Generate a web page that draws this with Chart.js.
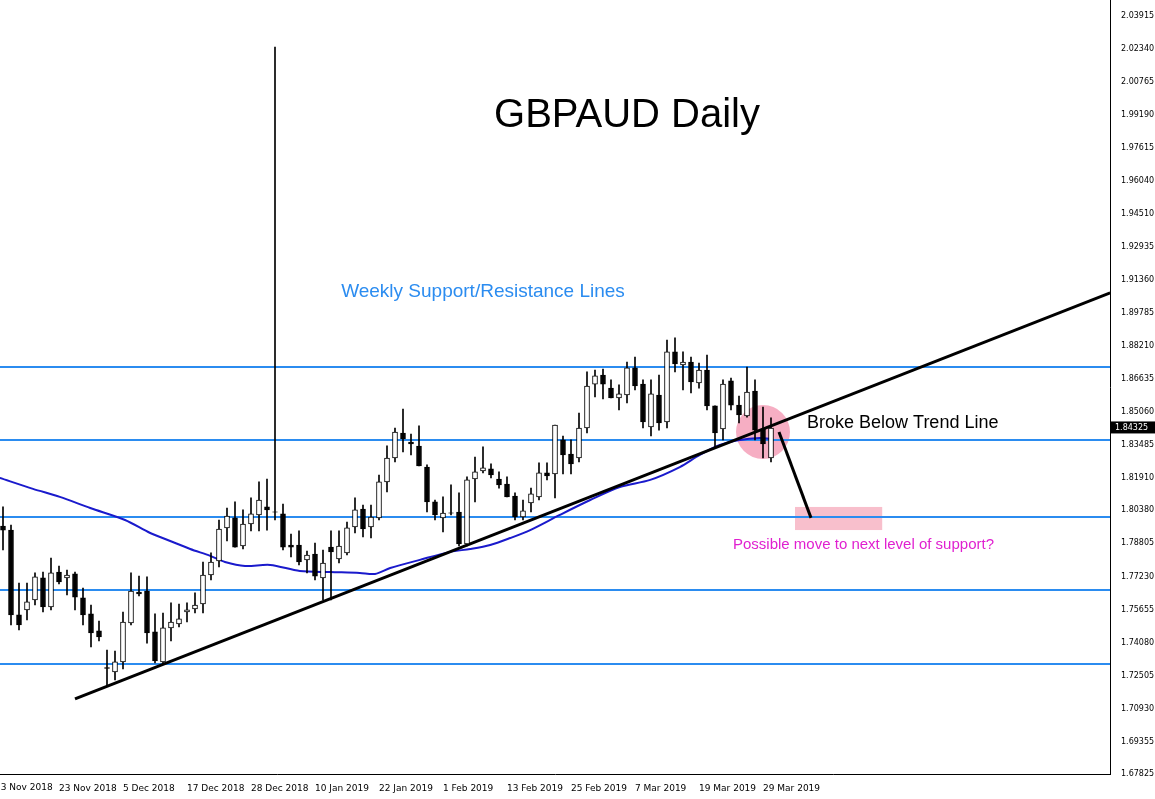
<!DOCTYPE html>
<html><head><meta charset="utf-8">
<script src="https://cdn.jsdelivr.net/npm/chart.js@4.4.0/dist/chart.umd.min.js"></script>
<style>html,body{margin:0;padding:0;background:#fff}#wrap{width:1155px;height:799px}</style>
</head><body><div id="wrap"><canvas id="c"></canvas></div>
<script>
const opens=[1.7963,1.7944,1.7540,1.7564,1.7611,1.7716,1.7578,1.7744,1.7716,1.7735,1.7621,1.7545,1.7464,1.7289,1.7268,1.7316,1.7502,1.7649,1.7654,1.7459,1.7316,1.7478,1.7497,1.7554,1.7568,1.7592,1.7730,1.7797,1.7954,1.8002,1.7868,1.7973,1.8016,1.8054,1.8031,1.8021,1.7873,1.7873,1.7802,1.7830,1.7716,1.7863,1.7806,1.7835,1.7959,1.8044,1.7959,1.8002,1.8173,1.8287,1.8406,1.8363,1.8344,1.8244,1.8078,1.8002,1.8026,1.8030,1.7878,1.8187,1.8225,1.8235,1.8187,1.8163,1.8106,1.8006,1.8073,1.8102,1.8216,1.8211,1.8373,1.8306,1.8287,1.8430,1.8639,1.8682,1.8620,1.8573,1.8587,1.8716,1.8639,1.8435,1.8587,1.8459,1.8792,1.8730,1.8744,1.8644,1.8706,1.8535,1.8425,1.8654,1.8539,1.8487,1.8606,1.8425,1.8287];
const highs=[1.8054,1.7968,1.7692,1.7692,1.7740,1.7744,1.7811,1.7773,1.7754,1.7744,1.7668,1.7587,1.7511,1.7373,1.7368,1.7554,1.7740,1.7725,1.7721,1.7545,1.7549,1.7597,1.7592,1.7597,1.7645,1.7792,1.7835,1.7992,1.8049,1.8078,1.8040,1.8097,1.8173,1.8187,2.0244,1.8068,1.7925,1.7940,1.7844,1.7882,1.7849,1.7940,1.7940,1.7982,1.8097,1.8063,1.8063,1.8206,1.8345,1.8430,1.8520,1.8401,1.8440,1.8254,1.8087,1.8102,1.8159,1.8121,1.8197,1.8292,1.8340,1.8259,1.8221,1.8197,1.8121,1.8087,1.8144,1.8264,1.8264,1.8444,1.8392,1.8373,1.8501,1.8697,1.8706,1.8711,1.8659,1.8635,1.8744,1.8768,1.8659,1.8659,1.8682,1.8849,1.8859,1.8792,1.8768,1.8739,1.8777,1.8535,1.8659,1.8668,1.8582,1.8720,1.8659,1.8530,1.8478];
const lows=[1.7849,1.7492,1.7468,1.7516,1.7587,1.7554,1.7564,1.7687,1.7635,1.7564,1.7492,1.7387,1.7416,1.7206,1.7230,1.7283,1.7492,1.7630,1.7406,1.7311,1.7306,1.7416,1.7483,1.7506,1.7549,1.7549,1.7706,1.7768,1.7892,1.7863,1.7854,1.7940,1.7940,1.7944,1.7992,1.7849,1.7816,1.7778,1.7740,1.7706,1.7611,1.7611,1.7787,1.7825,1.7930,1.7911,1.7906,1.7992,1.8125,1.8268,1.8316,1.8302,1.8249,1.8030,1.7992,1.7935,1.8016,1.7868,1.7868,1.8078,1.8216,1.8192,1.8144,1.8102,1.7992,1.7992,1.8030,1.8087,1.8183,1.8097,1.8211,1.8211,1.8268,1.8406,1.8578,1.8568,1.8573,1.8516,1.8549,1.8611,1.8430,1.8392,1.8420,1.8430,1.8697,1.8611,1.8597,1.8620,1.8516,1.8340,1.8373,1.8516,1.8454,1.8482,1.8373,1.8287,1.8268];
const closes=[1.7944,1.7540,1.7492,1.7602,1.7721,1.7578,1.7740,1.7697,1.7730,1.7625,1.7540,1.7454,1.7435,1.7285,1.7316,1.7506,1.7654,1.7640,1.7454,1.7321,1.7478,1.7506,1.7521,1.7564,1.7587,1.7730,1.7792,1.7949,1.8011,1.7863,1.7973,1.8021,1.8087,1.8040,1.8029,1.7863,1.7863,1.7792,1.7825,1.7725,1.7787,1.7840,1.7868,1.7954,1.8040,1.7949,1.8006,1.8173,1.8287,1.8411,1.8378,1.8354,1.8249,1.8078,1.8016,1.8025,1.8024,1.7878,1.8183,1.8221,1.8240,1.8206,1.8159,1.8102,1.8006,1.8035,1.8116,1.8216,1.8202,1.8444,1.8302,1.8259,1.8430,1.8630,1.8678,1.8639,1.8573,1.8592,1.8716,1.8630,1.8459,1.8592,1.8454,1.8792,1.8735,1.8744,1.8649,1.8706,1.8535,1.8406,1.8639,1.8539,1.8492,1.8601,1.8420,1.8354,1.8430];
const maX=[-0.4,3.75,7.1,10.9,15.25,18.4,20.9,23.4,25.9,27.75,30.25,33.4,37.1,40.9,44.6,46.5,48.4,52.1,55.9,58.4,60.9,63.4,65.9,69.6,73.4,77.1,80.9,84.6,87.1,89.6,92.1,94.6,95.9];
const maY=[1.8192,1.8140,1.8102,1.8049,1.7992,1.7930,1.7892,1.7854,1.7821,1.7792,1.7773,1.7778,1.7749,1.7744,1.7740,1.7735,1.7763,1.7802,1.7840,1.7854,1.7873,1.7906,1.7944,1.8016,1.8087,1.8149,1.8183,1.8244,1.8302,1.8349,1.8373,1.8382,1.8378];
const levels=[1.8720,1.8373,1.8006,1.7659,1.7306];
const trendX=[9,138.4], trendY=[1.7140,1.9073];
const yTicks=[2.03915,2.02340,2.00765,1.99190,1.97615,1.96040,1.94510,1.92935,1.91360,1.89785,1.88210,1.86635,1.85060,1.83485,1.81910,1.80380,1.78805,1.77230,1.75655,1.74080,1.72505,1.70930,1.69355,1.67825];
const dateIdx=[-1,7,15,23,31,39,47,55,63,71,79,87,95];
const dateLabels=['13 Nov 2018','23 Nov 2018','5 Dec 2018','17 Dec 2018','28 Dec 2018','10 Jan 2019','22 Jan 2019','1 Feb 2019','13 Feb 2019','25 Feb 2019','7 Mar 2019','19 Mar 2019','29 Mar 2019'];
const lastPrice=1.84325;
const circle={x:95,y:1.8411}, target={x1:99,x2:109.9,y1:1.8054,y2:1.7944}, arrow={x1:97,y1:1.8411,x2:101,y2:1.8002};

const idx=opens.map((_,i)=>i);
const wick=idx.map(i=>({x:i,y:[lows[i],highs[i]]}));
const body=idx.map(i=>({x:i,y:[opens[i],closes[i]===opens[i]?opens[i]-0.0002:closes[i]]}));
const bodyFill=idx.map(i=>closes[i]>=opens[i]?'#ffffff':'#000000');
const ds=[];
levels.forEach(v=>ds.push({type:'line',data:[{x:-1,y:v},{x:139,y:v}],borderColor:'#2b8cf0',borderWidth:2,pointRadius:0,order:5}));
ds.push({type:'line',data:maX.map((x,i)=>({x,y:maY[i]})),borderColor:'#1a1acc',borderWidth:2,pointRadius:0,tension:0.3,order:4});
ds.push({type:'line',data:trendX.map((x,i)=>({x,y:trendY[i]})),borderColor:'#000',borderWidth:3,pointRadius:0,order:3});
ds.push({type:'bar',data:wick,backgroundColor:'#000',barThickness:1,grouped:false,order:2});
ds.push({type:'bar',data:body,backgroundColor:bodyFill,borderColor:'#000',borderWidth:1,borderSkipped:false,barThickness:5,grouped:false,order:1});

const deco={id:'deco',
 beforeDatasetsDraw(ch){const {ctx,scales:{x,y}}=ch;ctx.save();
  ctx.fillStyle='rgba(245,160,185,0.85)';
  ctx.beginPath();ctx.arc(x.getPixelForValue(circle.x),y.getPixelForValue(circle.y),27,0,Math.PI*2);ctx.fill();
  const rx=x.getPixelForValue(target.x1),ry=y.getPixelForValue(target.y1);
  ctx.fillStyle='#f8bfcc';ctx.fillRect(rx,ry,x.getPixelForValue(target.x2)-rx,y.getPixelForValue(target.y2)-ry);
  ctx.restore();},
 afterDraw(ch){const {ctx,scales:{x,y}}=ch;ctx.save();
  ctx.strokeStyle='#000';ctx.lineWidth=3;ctx.beginPath();
  ctx.moveTo(x.getPixelForValue(arrow.x1),y.getPixelForValue(arrow.y1));ctx.lineTo(x.getPixelForValue(arrow.x2),y.getPixelForValue(arrow.y2));ctx.stroke();
  ctx.textBaseline='middle';
  ctx.fillStyle='#000';ctx.font='40px "Liberation Sans", Arial';ctx.textAlign='center';ctx.fillText('GBPAUD Daily',627,116);
  ctx.fillStyle='#2b8cf0';ctx.font='19px "Liberation Sans", Arial';ctx.fillText('Weekly Support/Resistance Lines',483,292);
  ctx.fillStyle='#000';ctx.font='18px "Liberation Sans", Arial';ctx.textAlign='left';ctx.fillText('Broke Below Trend Line',807,423);
  ctx.fillStyle='#e020d0';ctx.font='15px "Liberation Sans", Arial';ctx.fillText('Possible move to next level of support?',733,545);
  ctx.fillStyle='#000';ctx.font='9px "DejaVu Sans"';ctx.textBaseline='top';
  ctx.fillText(dateLabels[0],x.getPixelForValue(dateIdx[0]),783);
  const py=y.getPixelForValue(lastPrice);
  ctx.fillStyle='#000';ctx.fillRect(x.right+1,py-6,44,12);
  ctx.fillStyle='#fff';ctx.textBaseline='middle';ctx.font='8px "DejaVu Sans"';ctx.fillText(lastPrice.toFixed(5),x.right+5,py);
  ctx.restore();}};

new Chart(document.getElementById('c'),{data:{datasets:ds},plugins:[deco],
 options:{responsive:true,maintainAspectRatio:false,animation:false,layout:{padding:0},
  plugins:{legend:{display:false},tooltip:{enabled:false}},
  scales:{
   x:{type:'linear',offset:false,min:-0.375,max:138.375,grid:{display:false,offset:false},border:{color:'#000'},
      afterBuildTicks(a){a.ticks=dateIdx.slice(1).map(v=>({value:v}));},
      afterFit(a){a.height=25;a.paddingLeft=0;a.paddingRight=0;},
      ticks:{align:'start',maxRotation:0,autoSkip:false,padding:1,color:'#000',font:{family:'DejaVu Sans',size:9},
        callback:v=>dateLabels[dateIdx.indexOf(v)]}},
   y:{type:'linear',position:'right',min:1.67825,max:2.04677,grid:{display:false},border:{color:'#000'},
      afterBuildTicks(a){a.ticks=yTicks.map(v=>({value:v}));},
      afterFit(a){a.width=45;a.paddingTop=0;a.paddingBottom=0;},
      ticks:{autoSkip:false,padding:3,color:'#000',font:{family:'DejaVu Sans',size:8},callback:v=>v.toFixed(5)}}
  }}});
</script></body></html>
